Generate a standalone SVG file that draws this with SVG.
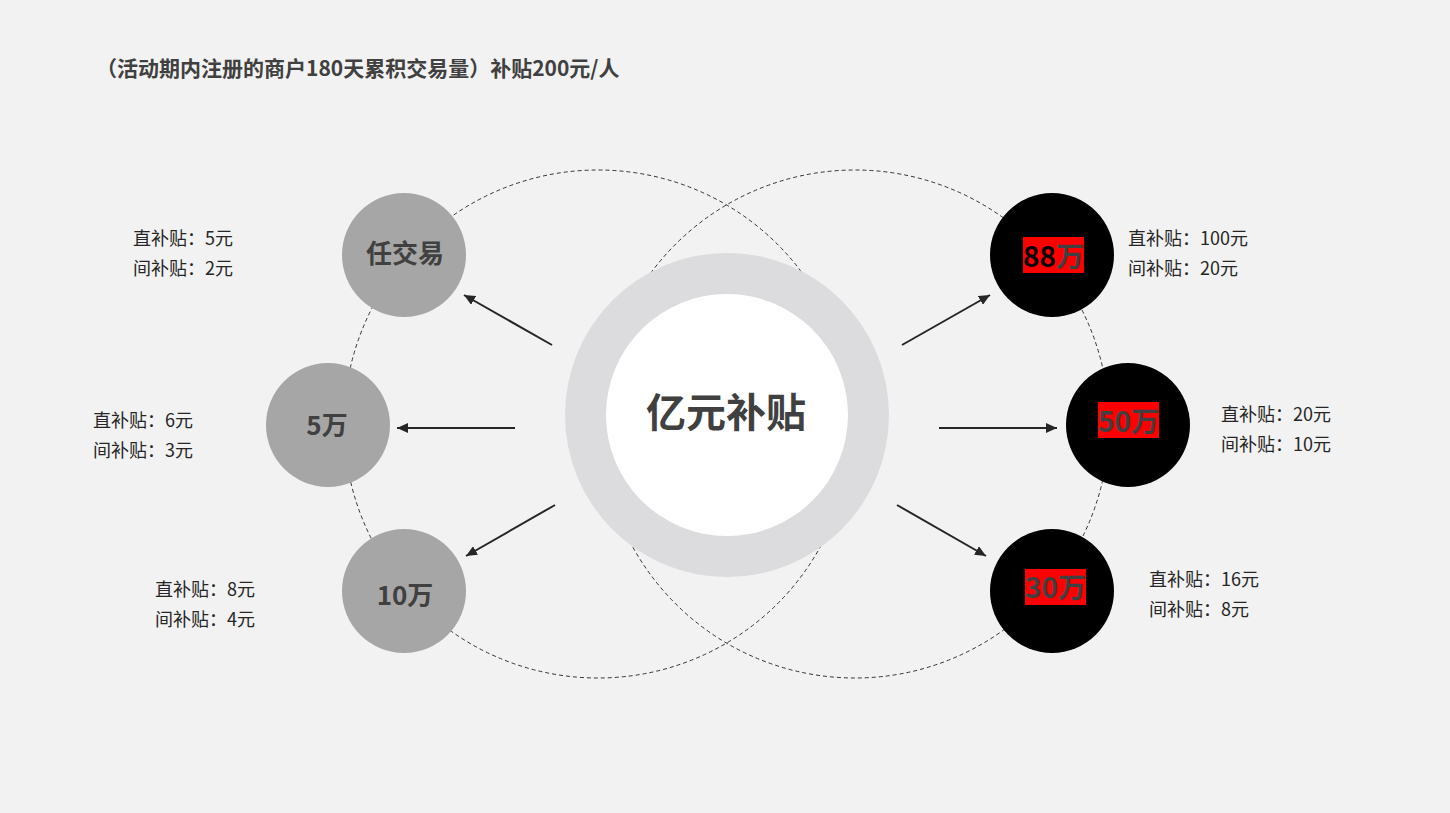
<svg xmlns="http://www.w3.org/2000/svg" width="1450" height="813" viewBox="0 0 1450 813">
<defs>
<style>
.t{font-family:"Noto Sans CJK SC","Noto Sans",sans-serif;}
.lbl{font-size:18px;fill:#262626;}
.nl{font-size:26px;font-weight:bold;fill:#404040;text-anchor:middle;}
.hl{font-size:28px;font-weight:bold;fill:#404040;text-anchor:middle;}
.dash{fill:none;stroke:#333;stroke-width:1;stroke-dasharray:4 3;}
.arr{stroke:#262626;stroke-width:2;fill:none;marker-end:url(#ah);}
.gray{fill:#a6a6a6;}
.blk{fill:#000;}
.red{fill:#ff0000;}
</style>
<marker id="ah" markerUnits="userSpaceOnUse" markerWidth="12" markerHeight="10" refX="11" refY="5" orient="auto">
<path d="M0,0 L11,5 L0,10 z" fill="#262626"/>
</marker>
</defs>
<rect width="1450" height="813" fill="#f2f2f2"/>
<text class="t" x="96" y="76" font-size="21" font-weight="bold" fill="#404040">（活动期内注册的商户180天累积交易量）补贴200元/人</text>
<g id="guides">
<circle class="dash" cx="598" cy="424" r="254"/>
<circle class="dash" cx="855" cy="424" r="254"/>
</g>
<g id="connectors">
<line class="arr" x1="552" y1="345" x2="464" y2="295"/>
<line class="arr" x1="515" y1="428" x2="397" y2="428"/>
<line class="arr" x1="555" y1="505" x2="466" y2="556"/>
<line class="arr" x1="902" y1="345" x2="990" y2="295"/>
<line class="arr" x1="939" y1="428" x2="1057" y2="428"/>
<line class="arr" x1="897" y1="505" x2="986" y2="556"/>
</g>
<g id="center">
<circle cx="727" cy="415" r="162" fill="#dcdcde"/>
<circle cx="727" cy="415" r="121" fill="#ffffff"/>
<text class="t" x="726" y="427" font-size="40" font-weight="bold" fill="#404040" text-anchor="middle">亿元补贴</text>
</g>
<g id="node-any">
<circle class="gray" cx="404" cy="255" r="62"/>
<text class="t nl" x="405" y="263">任交易</text>
<text class="t lbl" x="133" y="245">直补贴：5元</text>
<text class="t lbl" x="133" y="275">间补贴：2元</text>
</g>
<g id="node-5w">
<circle class="gray" cx="328" cy="425" r="62"/>
<text class="t nl" x="327" y="435">5万</text>
<text class="t lbl" x="93" y="427">直补贴：6元</text>
<text class="t lbl" x="93" y="457">间补贴：3元</text>
</g>
<g id="node-10w">
<circle class="gray" cx="404" cy="591" r="62"/>
<text class="t nl" x="405" y="605">10万</text>
<text class="t lbl" x="155" y="596">直补贴：8元</text>
<text class="t lbl" x="155" y="626">间补贴：4元</text>
</g>
<g id="node-88w">
<circle class="blk" cx="1052" cy="255" r="62"/>
<rect class="red" x="1023" y="237" width="61" height="36"/>
<text class="t hl" x="1053.5" y="267"><tspan fill="#000">88</tspan>万</text>
<text class="t lbl" x="1128" y="245">直补贴：100元</text>
<text class="t lbl" x="1128" y="275">间补贴：20元</text>
</g>
<g id="node-50w">
<circle class="blk" cx="1128" cy="425" r="62"/>
<rect class="red" x="1098" y="402" width="61" height="36"/>
<text class="t hl" x="1128.5" y="432">50万</text>
<text class="t lbl" x="1221" y="421">直补贴：20元</text>
<text class="t lbl" x="1221" y="451">间补贴：10元</text>
</g>
<g id="node-30w">
<circle class="blk" cx="1052" cy="591" r="62"/>
<rect class="red" x="1025" y="569" width="61" height="36"/>
<text class="t hl" x="1055.5" y="598">30万</text>
<text class="t lbl" x="1149" y="586">直补贴：16元</text>
<text class="t lbl" x="1149" y="616">间补贴：8元</text>
</g>
</svg>
